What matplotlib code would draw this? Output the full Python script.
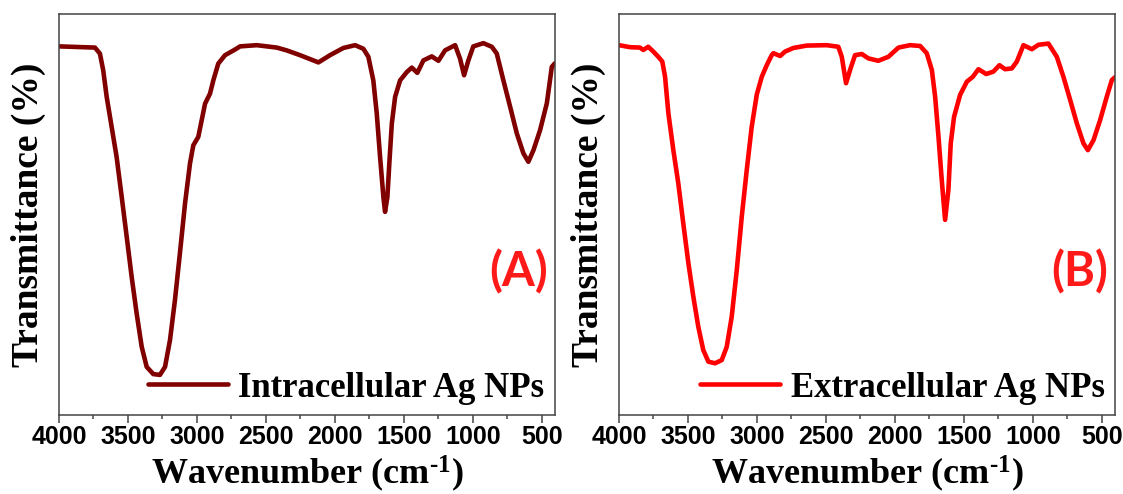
import matplotlib.pyplot as plt
from matplotlib.ticker import MultipleLocator

plt.rcParams['mathtext.fontset'] = 'custom'
plt.rcParams['mathtext.rm'] = 'Liberation Serif:bold'
plt.rcParams['mathtext.bf'] = 'Liberation Serif:bold'
plt.rcParams['mathtext.it'] = 'Liberation Serif:bold'

# FTIR spectra: wavenumber (cm-1) and transmittance (arb. %)
wn_intra = [4000, 3739, 3703, 3679, 3654, 3618, 3582, 3545, 3509, 3473, 3437, 3400,
            3364, 3316, 3268, 3231, 3195, 3159, 3123, 3086, 3050, 3026, 2990, 2965,
            2941, 2905, 2881, 2845, 2796, 2724, 2687, 2566, 2421, 2349, 2252, 2119,
            2035, 1938, 1853, 1793, 1757, 1721, 1696, 1672, 1648, 1636, 1619, 1605,
            1587, 1563, 1527, 1478, 1442, 1402, 1358, 1297, 1249, 1201, 1128, 1092,
            1063, 1032, 996, 923, 862, 826, 778, 729, 681, 633, 597, 560, 512, 463,
            427, 404]
t_intra = [92.0, 91.7, 90.2, 86.0, 79.4, 71.9, 64.4, 54.4, 44.5, 34.5, 25.4, 17.0,
           12.0, 10.2, 10.0, 12.0, 18.7, 28.7, 40.4, 52.8, 62.8, 67.3, 69.4, 73.6,
           77.7, 80.2, 83.5, 87.7, 89.8, 91.2, 92.0, 92.3, 91.7, 91.0, 89.8, 88.0,
           89.8, 91.6, 92.3, 91.4, 89.4, 83.5, 75.2, 64.4, 54.4, 50.7, 54.4, 62.8,
           72.7, 79.4, 83.5, 85.6, 86.7, 85.4, 88.5, 89.5, 88.4, 91.0, 92.3, 88.9,
           84.8, 88.5, 92.0, 92.8, 91.9, 90.2, 83.5, 76.9, 70.3, 65.3, 63.2, 66.1,
           71.1, 77.8, 86.9, 87.8]

wn_extra = [4000, 3920, 3848, 3824, 3788, 3751, 3715, 3686, 3666, 3642, 3606, 3570,
            3534, 3497, 3461, 3425, 3389, 3352, 3304, 3255, 3219, 3183, 3146, 3110,
            3074, 3038, 3001, 2965, 2929, 2893, 2881, 2832, 2796, 2736, 2639, 2494,
            2410, 2385, 2354, 2325, 2289, 2240, 2192, 2120, 2047, 1974, 1890, 1817,
            1769, 1732, 1708, 1684, 1660, 1636, 1612, 1595, 1571, 1527, 1478, 1435,
            1394, 1338, 1286, 1242, 1201, 1152, 1116, 1068, 1007, 959, 887, 826,
            778, 729, 681, 633, 601, 560, 512, 464, 427, 404]
t_extra = [92.3, 91.8, 91.7, 91.1, 91.9, 90.7, 89.4, 88.2, 84.4, 75.3, 66.1, 57.8,
           47.8, 37.9, 29.5, 22.0, 16.2, 13.3, 12.9, 13.7, 17.0, 24.5, 36.2, 49.5,
           61.1, 71.9, 80.0, 84.4, 87.3, 89.8, 90.3, 89.6, 90.7, 91.6, 92.2, 92.3,
           91.9, 89.4, 82.8, 86.1, 89.8, 90.1, 89.0, 88.4, 89.4, 91.7, 92.3, 92.1,
           90.3, 86.1, 79.4, 69.5, 58.6, 48.7, 56.2, 67.8, 74.4, 79.9, 83.2, 84.4,
           86.3, 85.1, 85.7, 87.3, 86.3, 86.5, 88.2, 92.3, 91.3, 92.4, 92.7, 89.4,
           84.4, 78.6, 72.8, 67.8, 66.1, 68.6, 73.6, 79.4, 83.6, 84.3]

serif = ['Liberation Serif', 'DejaVu Serif']
sans = ['Liberation Sans', 'DejaVu Sans']

fig = plt.figure(figsize=(11.23, 4.94), dpi=100)
ax1 = fig.add_axes([0.0525, 0.160, 0.4417, 0.811])
ax2 = fig.add_axes([0.5512, 0.160, 0.4417, 0.811])

panels = [
    (ax1, wn_intra, t_intra, '#800000', 'Intracellular Ag NPs', '(A)'),
    (ax2, wn_extra, t_extra, '#ff0000', 'Extracellular Ag NPs', '(B)'),
]

for ax, wn, t, col, name, tag in panels:
    ax.plot(wn, t, color=col, lw=3.3, label=name, solid_joinstyle='round',
            solid_capstyle='round')
    ax.set_xlim(4000, 404)
    ax.set_ylim(0, 100)
    ax.xaxis.set_major_locator(MultipleLocator(500))
    ax.xaxis.set_minor_locator(MultipleLocator(250))
    ax.tick_params(axis='x', which='major', direction='out', length=6, width=1.1,
                   pad=1.5, color='#444444')
    ax.tick_params(axis='x', which='minor', direction='out', length=3, width=1.1,
                   color='#444444')
    ax.set_yticks([])
    for s in ax.spines.values():
        s.set_linewidth(1.1)
        s.set_color('#444444')
    for lab in ax.get_xticklabels():
        lab.set_fontfamily(sans)
        lab.set_fontweight('bold')
        lab.set_fontsize(18)
    ax.set_xlabel('Wavenumber (cm$^{\\text{-1}}$)', family=serif, fontweight='bold',
                  fontsize=26, labelpad=3)
    ax.set_ylabel('Transmittance (%)', family=serif, fontweight='bold', fontsize=27,
                  labelpad=9)
    ax.text(0.986, 0.357, tag, transform=ax.transAxes, color='#ff1a1a', ha='right',
            va='center', fontsize=34, fontweight='bold', family=['Lato', 'DejaVu Sans'])
    ax.legend(loc='lower right', frameon=False, handlelength=2.3, handletextpad=0.3,
              borderaxespad=0.1, borderpad=0.2,
              prop={'family': serif, 'weight': 'bold', 'size': 25})

fig.savefig('out.png', dpi=100)
